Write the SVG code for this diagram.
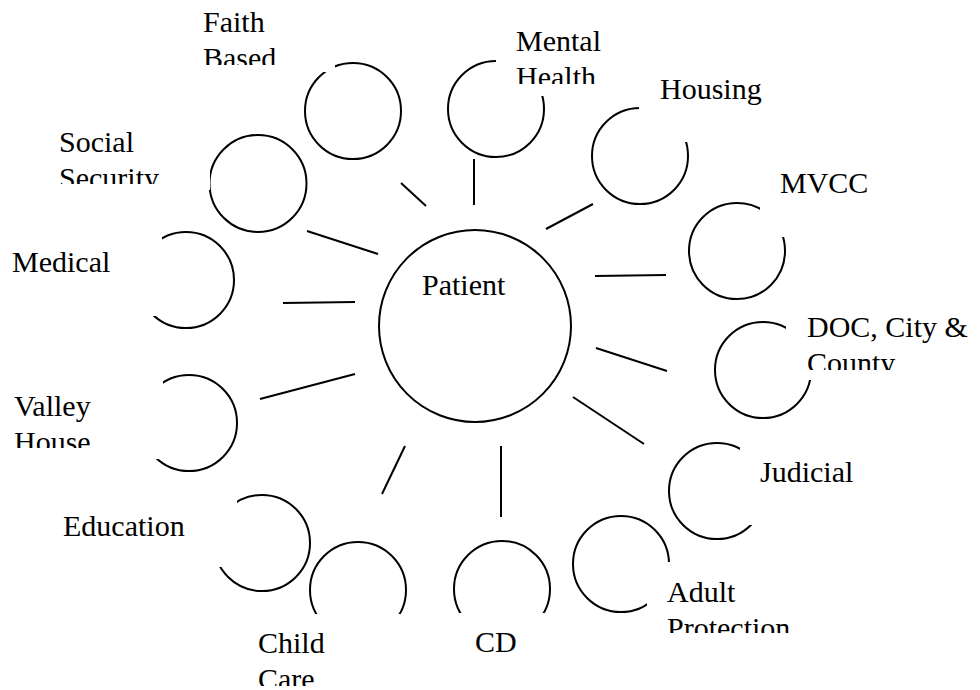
<svg xmlns="http://www.w3.org/2000/svg" width="980" height="690" viewBox="0 0 980 690">
<style>
.c{fill:none;stroke:#000;stroke-width:2}
.b{fill:#fff;stroke:none}
.t{font-family:'Liberation Serif','Tinos','Noto Serif','DejaVu Serif','FreeSerif','Times New Roman',Times,serif;font-size:30px;fill:#000}
#connectors line{stroke:#000;stroke-width:2}
</style>
<defs>
<clipPath id="cFaith"><rect x="195" y="0" width="145" height="65"/></clipPath>
<clipPath id="cMental"><rect x="496" y="15" width="124" height="69"/></clipPath>
<clipPath id="cSocial"><rect x="50" y="120" width="160" height="64"/></clipPath>
<clipPath id="cDoc"><rect x="786" y="300" width="194" height="70"/></clipPath>
<clipPath id="cValley"><rect x="5" y="380" width="158" height="68"/></clipPath>
<clipPath id="cAdult"><rect x="647" y="562" width="173" height="71"/></clipPath>
<clipPath id="cChild"><rect x="250" y="614" width="170" height="72"/></clipPath>
</defs>
<rect width="980" height="690" fill="#fff"/>
<g id="connectors">
<line x1="401" y1="183" x2="426" y2="206"/>
<line x1="474" y1="159" x2="474" y2="205"/>
<line x1="546" y1="229" x2="593" y2="204"/>
<line x1="595" y1="276" x2="666" y2="275"/>
<line x1="596" y1="348" x2="667" y2="371"/>
<line x1="573" y1="397" x2="644" y2="444"/>
<line x1="501" y1="446" x2="501" y2="517"/>
<line x1="405" y1="446" x2="382" y2="494"/>
<line x1="260" y1="399" x2="355" y2="374"/>
<line x1="283" y1="303" x2="355" y2="302"/>
<line x1="307" y1="231" x2="378" y2="254"/>
</g>
<g id="patient">
<circle class="c" cx="475" cy="326" r="96"/>
<text class="t" x="422" y="295">Patient</text>
</g>
<g id="faith-based">
<circle class="c" cx="353" cy="111" r="48"/>
<rect class="b" x="195" y="0" width="140" height="72"/>
<text class="t" clip-path="url(#cFaith)"><tspan x="203" y="32">Faith</tspan><tspan x="203" y="68">Based</tspan></text>
</g>
<g id="mental-health">
<circle class="c" cx="496" cy="109" r="48"/>
<rect class="b" x="496" y="15" width="124" height="81"/>
<text class="t" clip-path="url(#cMental)"><tspan x="516" y="51">Mental</tspan><tspan x="516" y="87">Health</tspan></text>
</g>
<g id="housing">
<circle class="c" cx="640" cy="156" r="48"/>
<rect class="b" x="639" y="65" width="161" height="77"/>
<text class="t" x="660" y="99">Housing</text>
</g>
<g id="social-security">
<circle class="c" cx="258" cy="183.5" r="48.5"/>
<rect class="b" x="50" y="120" width="160" height="70"/>
<text class="t" clip-path="url(#cSocial)"><tspan x="59" y="152">Social</tspan><tspan x="59" y="188">Security</tspan></text>
</g>
<g id="mvcc">
<circle class="c" cx="737" cy="251" r="48"/>
<rect class="b" x="760" y="165" width="140" height="72"/>
<text class="t" x="780" y="193">MVCC</text>
</g>
<g id="medical">
<circle class="c" cx="186" cy="280" r="48"/>
<rect class="b" x="5" y="235" width="157" height="81"/>
<text class="t" x="12" y="272">Medical</text>
</g>
<g id="doc-city-county">
<circle class="c" cx="763" cy="370" r="48"/>
<rect class="b" x="786" y="305" width="194" height="75"/>
<text class="t" clip-path="url(#cDoc)"><tspan x="807" y="337">DOC, City &amp;</tspan><tspan x="807" y="373">County</tspan></text>
</g>
<g id="valley-house">
<circle class="c" cx="189" cy="423" r="48"/>
<rect class="b" x="5" y="380" width="158" height="79"/>
<text class="t" clip-path="url(#cValley)"><tspan x="14" y="416">Valley</tspan><tspan x="14" y="452">House</tspan></text>
</g>
<g id="judicial">
<circle class="c" cx="717" cy="491" r="48"/>
<rect class="b" x="740" y="440" width="160" height="85"/>
<text class="t" x="760" y="482">Judicial</text>
</g>
<g id="education">
<circle class="c" cx="262" cy="543" r="48"/>
<rect class="b" x="55" y="500" width="182" height="67"/>
<text class="t" x="63" y="536">Education</text>
</g>
<g id="adult-protection">
<circle class="c" cx="621" cy="564" r="48"/>
<rect class="b" x="647" y="562" width="173" height="83"/>
<text class="t" clip-path="url(#cAdult)"><tspan x="667" y="602">Adult</tspan><tspan x="667" y="638">Protection</tspan></text>
</g>
<g id="child-care">
<circle class="c" cx="358" cy="590" r="48"/>
<rect class="b" x="250" y="614" width="170" height="76"/>
<text class="t" clip-path="url(#cChild)"><tspan x="258" y="653">Child</tspan><tspan x="258" y="689">Care</tspan></text>
</g>
<g id="cd">
<circle class="c" cx="502" cy="589" r="48"/>
<rect class="b" x="450" y="613" width="110" height="60"/>
<text class="t" x="475" y="652">CD</text>
</g>
</svg>
